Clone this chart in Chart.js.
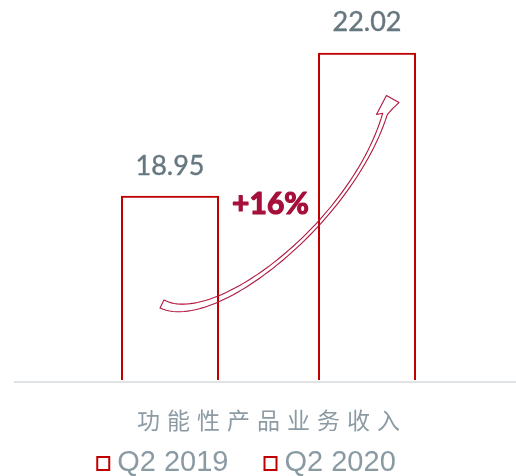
<!DOCTYPE html>
<html>
<head>
<meta charset="utf-8">
<script src="https://cdn.jsdelivr.net/npm/chart.js@4/dist/chart.umd.min.js"></script>
<style>
	html, body { margin: 0; padding: 0; background: #ffffff; }
	canvas { display: block; }
</style>
</head>
<body>
<canvas id="myChart" width="516" height="476"></canvas>
<script>
var labels = ["功能性产品业务收入"];
var seriesNames = ["Q2 2019", "Q2 2020"];
var q2_2019 = [18.95];
var q2_2020 = [22.02];
var growthText = "+16%";

var barRed = "#c00000";
var grayText = "#66777f";
var legendGray = "#8a9aa3";
var arrowRed = "#b0163e";

// baseline, data labels, category label, legend
var decorPlugin = {
	id: "decor",
	beforeDatasetsDraw: function(chart) {
		var ctx = chart.ctx;
		var area = chart.chartArea;
		ctx.save();
		ctx.fillStyle = "#dfe3e6";
		ctx.fillRect(14, area.bottom + 1, chart.width - 14, 2);
		ctx.restore();
	},
	afterDatasetsDraw: function(chart) {
		var ctx = chart.ctx;
		var area = chart.chartArea;
		ctx.save();

		// value labels above the bars
		ctx.font = "27px Lato";
		ctx.fillStyle = grayText;
		ctx.strokeStyle = grayText;
		ctx.lineWidth = 0.4;
		ctx.textAlign = "center";
		ctx.textBaseline = "middle";
		chart.data.datasets.forEach(function(ds, i) {
			var meta = chart.getDatasetMeta(i);
			meta.data.forEach(function(bar, j) {
				var txt = ds.data[j].toFixed(2);
				ctx.fillText(txt, bar.x, bar.y - 30);
				ctx.strokeText(txt, bar.x, bar.y - 30);
			});
		});

		// category label under the axis
		var xScale = chart.scales.x;
		ctx.font = "23px 'Noto Sans CJK SC'";
		ctx.fillStyle = "#8c9ba3";
		ctx.textAlign = "left";
		ctx.letterSpacing = "7px";
		labels.forEach(function(lab, i) {
			var w = ctx.measureText(lab).width - 7;
			ctx.fillText(lab, xScale.getPixelForTick(i) - w / 2, area.bottom + 40);
		});
		ctx.letterSpacing = "0px";

		// legend
		ctx.font = "29px 'Liberation Sans'";
		var box = 14, gap = 7, itemGap = 35;
		var widths = seriesNames.map(function(n) { return box + gap + ctx.measureText(n).width; });
		var total = widths[0] + widths[1] + itemGap;
		var x = chart.width / 2 - 12 - total / 2;
		var y = 463;
		chart.data.datasets.forEach(function(ds, i) {
			ctx.strokeStyle = ds.borderColor;
			ctx.lineWidth = 2;
			ctx.strokeRect(x + 1, y - 6, box - 2, box - 1);
			ctx.fillStyle = legendGray;
			ctx.textBaseline = "middle";
			ctx.fillText(ds.label, x + box + gap, y);
			x += widths[i] + itemGap;
		});
		ctx.restore();
	}
};

// curved growth arrow and percentage
var arrowPlugin = {
	id: "growthArrow",
	afterDatasetsDraw: function(chart) {
		var ctx = chart.ctx;
		var b1 = chart.getDatasetMeta(0).data[0];
		var b2 = chart.getDatasetMeta(1).data[0];
		var ox = b1.x, oy = chart.chartArea.bottom;
		var s = (b2.x - b1.x) / 197;
		function pt(dx, dy) { return [ox + dx * s, oy + dy * s]; }

		var p0 = pt(-8, -76), p1 = pt(45, -50), p2 = pt(182, -158), p3 = pt(215, -266);
		function bez(t, k) {
			var u = 1 - t;
			return u * u * u * p0[k] + 3 * u * u * t * p1[k] + 3 * u * t * t * p2[k] + t * t * t * p3[k];
		}
		function der(t, k) {
			var u = 1 - t;
			return 3 * u * u * (p1[k] - p0[k]) + 6 * u * t * (p2[k] - p1[k]) + 3 * t * t * (p3[k] - p2[k]);
		}
		var up = [], low = [];
		var n = 60;
		for (var i = 0; i <= n; i++) {
			var t = i / n;
			var cx = bez(t, 0), cy = bez(t, 1);
			var tx = der(t, 0), ty = der(t, 1);
			var len = Math.sqrt(tx * tx + ty * ty);
			tx /= len; ty /= len;
			var nx = -ty, ny = tx;
			var hw = (0.8 + 3.7 * (1 - t) * (1 - t) + 1.6 * t * t * t) * s;
			up.push([cx - hw * nx, cy - hw * ny]);
			low.push([cx + hw * nx, cy + hw * ny]);
		}
		var dx = der(1, 0), dy = der(1, 1);
		var dl = Math.sqrt(dx * dx + dy * dy);
		dx /= dl; dy /= dl;
		var nx1 = -dy, ny1 = dx;
		var c = p3;
		function hp(a, b) { return [c[0] + (a * dx + b * nx1) * s, c[1] + (a * dy + b * ny1) * s]; }

		ctx.save();
		ctx.beginPath();
		ctx.moveTo(up[0][0], up[0][1]);
		for (var j = 1; j < up.length; j++) ctx.lineTo(up[j][0], up[j][1]);
		var h1 = hp(-3, -8), h2 = hp(18, -4), h3 = hp(15, 10), h4 = hp(8, 6);
		ctx.lineTo(h1[0], h1[1]);
		ctx.lineTo(h2[0], h2[1]);
		ctx.lineTo(h3[0], h3[1]);
		ctx.lineTo(h4[0], h4[1]);
		for (var k = low.length - 1; k >= 0; k--) ctx.lineTo(low[k][0], low[k][1]);
		ctx.closePath();
		ctx.strokeStyle = arrowRed;
		ctx.lineWidth = 1.1;
		ctx.lineJoin = "round";
		ctx.stroke();

		ctx.font = "bold 30px Lato";
		ctx.fillStyle = "#a50f3a";
		ctx.strokeStyle = "#a50f3a";
		ctx.lineWidth = 1.2;
		ctx.textAlign = "center";
		ctx.textBaseline = "middle";
		var midX = (b1.x + b1.width / 2 + b2.x - b2.width / 2) / 2 + 2;
		ctx.fillText(growthText, midX, b1.y + 8);
		ctx.strokeText(growthText, midX, b1.y + 8);
		ctx.restore();
	}
};

var ctx = document.getElementById("myChart");

var data = {
	labels : labels,
	datasets : [
		{
			label : seriesNames[0],
			data : q2_2019,
			backgroundColor : "rgba(255,255,255,0)",
			borderColor : barRed,
			borderWidth : 2,
			categoryPercentage : 0.796,
			barPercentage : 0.4975
		},
		{
			label : seriesNames[1],
			data : q2_2020,
			backgroundColor : "rgba(255,255,255,0)",
			borderColor : barRed,
			borderWidth : 2,
			categoryPercentage : 0.796,
			barPercentage : 0.4975
		}
	]
};

var myChart = new Chart(ctx, {
	type : "bar",
	data : data,
	plugins : [decorPlugin, arrowPlugin],
	options : {
		responsive : false,
		animation : false,
		layout : { padding : { top : 7, bottom : 96, left : 21, right : 0 } },
		plugins : {
			legend : { display : false },
			tooltip : { enabled : false }
		},
		scales : {
			x : { display : false },
			y : { display : false, min : 15, max : 23 }
		}
	}
});
</script>
</body>
</html>
